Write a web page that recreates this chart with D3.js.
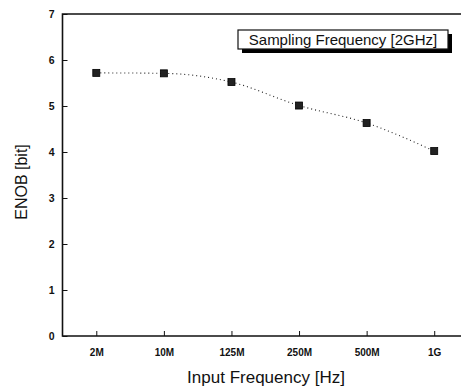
<!DOCTYPE html>
<html>
  <head>
    <title>ENOB vs input frequency</title>
    <script src="https://d3js.org/d3.v7.min.js"></script>
    <style type="text/css">
      body { margin: 0; background: #fff; }
      text { font-family: Arial, "Liberation Sans", sans-serif; fill: #111; }
    </style>
  </head>
  <body>
    <div id="chart"></div>
    <script>
      // data
      var categories = ["2M", "10M", "125M", "250M", "500M", "1G"];
      var enob = [5.72, 5.71, 5.52, 5.01, 4.63, 4.02];
      var yTicks = [0, 1, 2, 3, 4, 5, 6, 7];
      var legendLabel = "Sampling Frequency [2GHz]";

      var width = 461, height = 390;
      var plotLeft = 62.5, plotTop = 14, plotBottom = 336;

      var svg = d3.select("#chart").append("svg")
        .attr("width", width)
        .attr("height", height);

      // point scale, half a step of padding on both ends (right end falls off the page)
      var x = d3.scalePoint()
        .domain(categories)
        .range([plotLeft, 468])
        .padding(0.5);

      var y = d3.scaleLinear()
        .domain([0, 7])
        .range([plotBottom, plotTop]);

      // y axis, ticks pointing inward
      var yAxis = svg.append("g")
        .attr("transform", "translate(" + plotLeft + ",0)")
        .call(d3.axisRight(y).tickValues(yTicks).tickSize(5).tickFormat(d3.format("d")));
      yAxis.select(".domain").remove();
      yAxis.selectAll("text")
        .attr("x", -8).attr("text-anchor", "end")
        .style("font-size", "10.5px")
        .style("font-weight", "bold");
      yAxis.selectAll("line").attr("stroke", "#111");

      // x axis, ticks pointing up
      var xAxis = svg.append("g")
        .attr("transform", "translate(0," + plotBottom + ")")
        .call(d3.axisTop(x).tickSize(5));
      xAxis.select(".domain").remove();
      xAxis.selectAll("text")
        .attr("y", 20)
        .style("font-size", "10px")
        .style("font-weight", "bold");
      xAxis.selectAll("line").attr("stroke", "#111");

      // frame: left, bottom, top lines
      svg.append("path")
        .attr("d", "M" + width + "," + plotTop + "H" + plotLeft + "V" + plotBottom + "H" + width)
        .attr("fill", "none")
        .attr("stroke", "#111")
        .attr("stroke-width", 1.6);

      // dotted spline through the points
      var line = d3.line()
        .x(function(d, i) { return x(categories[i]); })
        .y(function(d) { return y(d); })
        .curve(d3.curveMonotoneX);

      svg.append("path")
        .datum(enob)
        .attr("d", line)
        .attr("fill", "none")
        .attr("stroke", "#222")
        .attr("stroke-width", 1.1)
        .attr("stroke-dasharray", "1,3");

      // square markers
      svg.selectAll("rect.pt")
        .data(enob)
        .enter()
        .append("rect")
        .attr("class", "pt")
        .attr("x", function(d, i) { return x(categories[i]) - 3.5; })
        .attr("y", function(d) { return y(d) - 3.5; })
        .attr("width", 7)
        .attr("height", 7)
        .attr("fill", "#222")
        .attr("stroke", "#000")
        .attr("stroke-width", 0.8);

      // legend box with drop shadow
      var lg = svg.append("g").attr("transform", "translate(238,30)");
      lg.append("rect")
        .attr("x", 4).attr("y", 4)
        .attr("width", 210).attr("height", 19)
        .attr("fill", "#000");
      lg.append("rect")
        .attr("width", 210).attr("height", 19)
        .attr("fill", "#fff")
        .attr("stroke", "#111")
        .attr("stroke-width", 1.2);
      lg.append("text")
        .attr("x", 105).attr("y", 14.5)
        .attr("text-anchor", "middle")
        .style("font-size", "15px")
        .text(legendLabel);

      // axis titles
      svg.append("text")
        .attr("transform", "translate(27,182) rotate(-90)")
        .attr("text-anchor", "middle")
        .style("font-size", "16px")
        .text("ENOB [bit]");

      svg.append("text")
        .attr("x", 266).attr("y", 383)
        .attr("text-anchor", "middle")
        .style("font-size", "17px")
        .text("Input Frequency [Hz]");
    </script>
  </body>
</html>
